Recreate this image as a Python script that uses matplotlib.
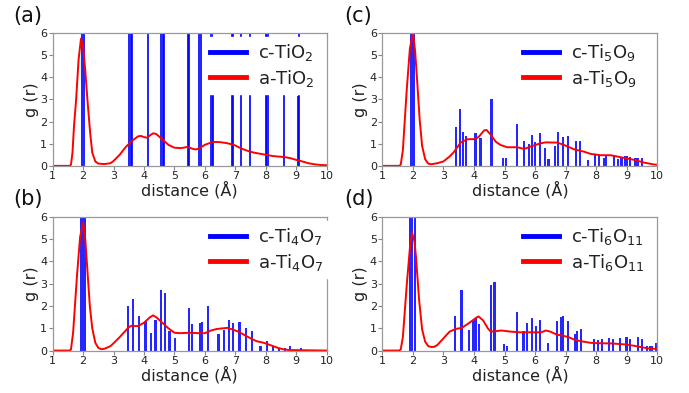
import matplotlib
matplotlib.use('Agg')
import matplotlib.pyplot as plt
from matplotlib.lines import Line2D

# ---- red curves: amorphous g(r) ----
x_a = [1.0, 1.55, 1.6, 1.65, 1.7, 1.77, 1.85, 1.93, 2.0, 2.07, 2.14, 2.23, 2.3, 2.4, 2.5,
       2.7, 2.9, 3.0, 3.2, 3.4, 3.6, 3.8, 3.9, 4.0, 4.1, 4.2, 4.3, 4.4, 4.6, 4.8, 5.0,
       5.2, 5.3, 5.4, 5.5, 5.6, 5.7, 5.8, 6.0, 6.2, 6.3, 6.5, 6.7, 6.9, 7.0, 7.2, 7.4,
       7.6, 7.8, 8.0, 8.2, 8.4, 8.6, 8.8, 9.0, 9.2, 9.4, 9.6, 9.8, 10.0]
g_a = [0, 0, 0.05, 0.6, 1.8, 3.0, 4.8, 5.75, 5.4, 4.3, 3.0, 1.5, 0.6, 0.2, 0.1,
       0.08, 0.12, 0.22, 0.5, 0.85, 1.12, 1.33, 1.35, 1.3, 1.27, 1.38, 1.47, 1.44, 1.2, 0.95, 0.82,
       0.8, 0.82, 0.85, 0.82, 0.77, 0.74, 0.78, 0.95, 1.05, 1.08, 1.07, 1.03, 0.97, 0.92, 0.78, 0.68,
       0.6, 0.55, 0.5, 0.45, 0.42, 0.4, 0.35, 0.27, 0.2, 0.12, 0.07, 0.04, 0.03]

x_b = [1.0, 1.55, 1.6, 1.67, 1.73, 1.8, 1.9, 2.0, 2.07, 2.14, 2.22, 2.3, 2.4, 2.5, 2.6,
       2.7, 2.9, 3.0, 3.2, 3.4, 3.5, 3.6, 3.7, 3.8, 4.0, 4.2, 4.3, 4.4, 4.6, 4.8, 5.0,
       5.2, 5.5, 5.8, 6.0, 6.2, 6.4, 6.6, 6.75, 6.9, 7.1, 7.3, 7.5, 7.7, 7.9, 8.0, 8.2,
       8.4, 8.6, 8.8, 9.0, 10.0]
g_b = [0, 0, 0.05, 0.8, 2.0, 3.4, 5.1, 5.75, 5.0, 3.6, 2.0, 1.0, 0.35, 0.12, 0.06,
       0.08, 0.2, 0.33, 0.6, 0.9, 1.05, 1.12, 1.1, 1.1, 1.25, 1.5, 1.58, 1.5, 1.25, 1.0, 0.8,
       0.78, 0.8, 0.78, 0.78, 0.9, 0.97, 1.0, 1.02, 0.95, 0.85, 0.7, 0.55, 0.42, 0.36, 0.32, 0.22,
       0.12, 0.05, 0.02, 0.02, 0.0]

x_c = [1.0, 1.55, 1.6, 1.67, 1.73, 1.8, 1.9, 2.0, 2.07, 2.14, 2.22, 2.3, 2.4, 2.5, 2.6,
       2.8, 3.0, 3.2, 3.35, 3.56, 3.78, 4.05, 4.16, 4.33, 4.41, 4.55, 4.71, 4.87, 5.09,
       5.42, 5.64, 5.85, 6.18, 6.35, 6.73, 6.95, 7.27, 7.6, 7.82, 8.15, 8.47, 8.8, 9.24,
       9.56, 9.89, 10.0]
g_c = [0, 0, 0.05, 0.7, 2.0, 3.5, 5.3, 6.0, 5.2, 3.8, 2.1, 0.9, 0.3, 0.1, 0.07,
       0.12, 0.2, 0.42, 0.64, 1.05, 1.2, 1.21, 1.32, 1.6, 1.62, 1.4, 1.09, 0.94, 0.84,
       0.84, 0.76, 0.87, 1.02, 1.06, 1.05, 0.94, 0.75, 0.64, 0.54, 0.48, 0.48, 0.39, 0.27,
       0.15, 0.06, 0.05]

x_d = [1.0, 1.55, 1.6, 1.67, 1.73, 1.8, 1.9, 1.97, 2.05, 2.1, 2.2, 2.3, 2.4, 2.5, 2.6,
       2.7, 2.8, 2.9, 3.0, 3.2, 3.4, 3.6, 3.8, 4.0, 4.1, 4.15, 4.3, 4.45, 4.55, 4.7, 4.9,
       5.2, 5.5, 5.8, 6.0, 6.2, 6.35, 6.5, 6.7, 6.9, 7.1, 7.3, 7.5, 7.8, 8.0, 8.5, 9.0,
       9.3, 9.6, 9.8, 10.0]
g_d = [0, 0, 0.05, 0.6, 1.7, 3.0, 4.6, 5.3, 4.9, 4.2, 2.3, 0.95, 0.4, 0.2, 0.16,
       0.17, 0.25, 0.4, 0.55, 0.85, 0.97, 1.02, 1.2, 1.4, 1.5, 1.53, 1.35, 1.0, 0.85, 0.87, 0.9,
       0.85, 0.82, 0.82, 0.82, 0.82, 0.9, 0.85, 0.72, 0.67, 0.6, 0.48, 0.42, 0.35, 0.33, 0.32, 0.27,
       0.2, 0.12, 0.08, 0.08]

# ---- blue bars: crystalline g(r) peaks ----
pos_a = [1.97, 2.04, 3.50, 3.56, 3.60, 4.12, 4.56, 4.62, 4.67, 5.44, 5.47, 5.80, 5.86,
         6.22, 6.26, 6.88, 6.92, 7.18, 7.48, 8.02, 8.06, 8.60, 9.06, 9.09]
h_a = [9.0, 8.0, 9.0, 9.0, 7.0, 9.0, 9.0, 9.0, 7.0, 9.0, 8.0, 9.0, 9.0,
       8.0, 3.3, 9.0, 8.0, 8.0, 8.0, 8.0, 7.0, 3.47, 3.17, 8.0]

pos_b = [1.92, 1.99, 2.06, 3.47, 3.63, 3.84, 4.05, 4.24, 4.38, 4.55, 4.68, 4.84, 5.01,
         5.47, 5.59, 5.85, 5.91, 6.11, 6.45, 6.64, 6.78, 6.93, 7.14, 7.34, 7.54,
         7.83, 8.05, 8.23, 8.45, 8.63, 8.80, 9.16]
h_b = [6.5, 8.0, 6.5, 2.0, 2.32, 1.57, 1.33, 0.8, 1.35, 2.7, 2.6, 0.87, 0.58,
       1.9, 1.2, 1.24, 1.27, 2.0, 0.73, 0.93, 1.38, 1.24, 1.29, 1.02, 0.87,
       0.22, 0.45, 0.22, 0.12, 0.1, 0.22, 0.1]

pos_c = [1.95, 2.02, 3.40, 3.53, 3.65, 3.74, 4.05, 4.21, 4.57, 4.94, 5.04, 5.42, 5.64,
         5.80, 5.91, 6.00, 6.17, 6.32, 6.44, 6.65, 6.75, 6.90, 7.08, 7.33, 7.47, 7.74,
         7.95, 8.10, 8.25, 8.33, 8.58, 8.72, 8.83, 8.94, 9.02, 9.10, 9.27, 9.35, 9.49]
h_c = [6.0, 6.0, 1.75, 2.55, 1.53, 1.36, 1.48, 1.27, 3.04, 0.36, 0.36, 1.89, 1.12,
       0.99, 1.39, 1.06, 1.47, 0.82, 0.30, 0.91, 1.53, 1.30, 1.35, 1.12, 1.14, 0.25,
       0.48, 0.48, 0.37, 0.48, 0.48, 0.30, 0.42, 0.45, 0.45, 0.40, 0.35, 0.37, 0.37]

pos_d = [1.91, 1.98, 2.06, 3.37, 3.59, 3.83, 3.96, 4.05, 4.15, 4.55, 4.67, 4.98, 5.07,
         5.42, 5.62, 5.72, 5.91, 6.04, 6.16, 6.43, 6.73, 6.84, 6.91, 7.07, 7.30, 7.38,
         7.51, 7.93, 8.06, 8.20, 8.42, 8.55, 8.78, 8.99, 9.12, 9.37, 9.51, 9.67, 9.75,
         9.83, 9.97]
h_d = [6.5, 8.0, 6.5, 1.57, 2.73, 0.94, 1.33, 1.45, 1.18, 2.95, 3.06, 0.30, 0.22,
       1.71, 0.87, 1.24, 1.45, 1.11, 1.38, 0.36, 1.33, 1.51, 1.56, 1.32, 0.76, 0.87,
       0.96, 0.52, 0.46, 0.50, 0.57, 0.52, 0.58, 0.60, 0.51, 0.60, 0.52, 0.22, 0.22,
       0.22, 0.36]

panels = [
    ('(a)', pos_a, h_a, x_a, g_a, r'c-TiO$_\mathregular{2}$', r'a-TiO$_\mathregular{2}$'),
    ('(b)', pos_b, h_b, x_b, g_b, r'c-Ti$_\mathregular{4}$O$_\mathregular{7}$', r'a-Ti$_\mathregular{4}$O$_\mathregular{7}$'),
    ('(c)', pos_c, h_c, x_c, g_c, r'c-Ti$_\mathregular{5}$O$_\mathregular{9}$', r'a-Ti$_\mathregular{5}$O$_\mathregular{9}$'),
    ('(d)', pos_d, h_d, x_d, g_d, r'c-Ti$_\mathregular{6}$O$_\mathregular{11}$', r'a-Ti$_\mathregular{6}$O$_\mathregular{11}$'),
]

# axes boxes in figure fractions [left, bottom, width, height]
boxes = {
    '(a)': [0.0765, 0.578, 0.3975, 0.338],
    '(b)': [0.0765, 0.108, 0.3975, 0.340],
    '(c)': [0.555, 0.578, 0.399, 0.338],
    '(d)': [0.555, 0.108, 0.399, 0.340],
}
legend_x = {'(a)': 0.554, '(b)': 0.554, '(c)': 0.492, '(d)': 0.492}
label_xy = {'(a)': (0.019, 0.985), '(b)': (0.019, 0.518),
            '(c)': (0.499, 0.985), '(d)': (0.499, 0.518)}

fig = plt.figure(figsize=(6.89, 3.93), dpi=100)
fig.patch.set_facecolor('white')

for tag, pos, h, xr, gr, lab_c, lab_a in panels:
    ax = fig.add_axes(boxes[tag])
    ax.bar(pos, h, width=0.07, color='#0000ff', alpha=0.85, linewidth=0)
    ax.plot(xr, gr, color='#ff0000', linewidth=1.4)
    ax.set_xlim(1, 10)
    ax.set_ylim(0, 6)
    ax.set_xticks(range(1, 11))
    ax.set_yticks(range(0, 7))
    ax.tick_params(colors='#888888', labelcolor='#222222', labelsize=8, length=3, width=0.8, pad=1)
    for spine in ax.spines.values():
        spine.set_color('#999999')
        spine.set_linewidth(0.9)
    ax.set_xlabel('distance (Å)', fontsize=11.5, color='#222222', labelpad=0)
    ax.set_ylabel('g (r)', fontsize=11.5, color='#222222', labelpad=1)

    # legend with thick line handles and an opaque white box
    handles = [Line2D([], [], color='#0000ff', linewidth=3.5),
               Line2D([], [], color='#ff0000', linewidth=3.5)]
    ax.legend(handles, [lab_c, lab_a], loc='upper left', bbox_to_anchor=(legend_x[tag], 0.972),
              borderaxespad=0, fontsize=13, handlelength=2.0, handletextpad=0.65,
              labelspacing=0.25, borderpad=0.3, frameon=True, fancybox=False, framealpha=1.0,
              facecolor='white', edgecolor='white', labelcolor='#222222')

    fig.text(label_xy[tag][0], label_xy[tag][1], tag, fontsize=15, color='#111111',
             ha='left', va='top')

fig.savefig('out.png', dpi=100, facecolor='white')
